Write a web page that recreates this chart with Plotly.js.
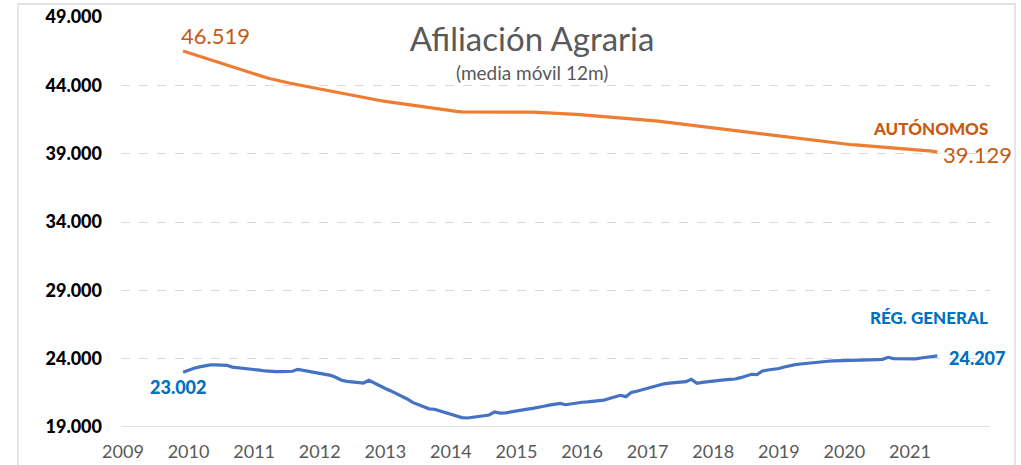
<!DOCTYPE html>
<html>
<head>
<meta charset="utf-8">
<script src="https://cdn.plot.ly/plotly-3.0.1.min.js"></script>
<style>
  html, body { margin: 0; padding: 0; background: #ffffff; }
  #chart { width: 1021px; height: 465px; }
</style>
</head>
<body>
<div id="chart"></div>
<script>
// First month of the series: December 2009 (monthly, 12-month moving average)
const startYear = 2009;
const startMonth = 12;

const autonomos = [
  46519, 46390, 46250, 46110, 45970, 45830, 45700, 45580, 45450, 45330,
  45200, 45080, 44950, 44820, 44700, 44590, 44480, 44380, 44290, 44200,
  44120, 44040, 43960, 43880, 43800, 43720, 43640, 43560, 43480, 43400,
  43320, 43240, 43170, 43100, 43030, 42960, 42890, 42830, 42770, 42710,
  42650, 42590, 42530, 42470, 42410, 42350, 42290, 42240, 42190, 42140,
  42090, 42060, 42060, 42070, 42070, 42080, 42080, 42080, 42080, 42080,
  42080, 42070, 42060, 42050, 42040, 42020, 42010, 41990, 41970, 41950,
  41930, 41900, 41870, 41840, 41810, 41780, 41750, 41710, 41680, 41650,
  41620, 41590, 41560, 41530, 41500, 41460, 41420, 41380, 41330, 41280,
  41230, 41180, 41130, 41080, 41030, 40980, 40930, 40880, 40830, 40780,
  40730, 40680, 40630, 40580, 40530, 40480, 40430, 40380, 40330, 40280,
  40230, 40180, 40130, 40080, 40030, 39980, 39930, 39880, 39830, 39780,
  39740, 39700, 39670, 39640, 39610, 39580, 39550, 39520, 39490, 39460,
  39430, 39400, 39370, 39340, 39300, 39260, 39220, 39180, 39129
];

const regGeneral = [
  23002, 23170, 23300, 23400, 23490, 23540, 23550, 23545, 23515, 23380,
  23345, 23300, 23250, 23200, 23160, 23100, 23050, 23050, 23050, 23050,
  23080, 23220, 23150, 23100, 23010, 22940, 22860, 22780, 22620, 22420,
  22340, 22300, 22270, 22220, 22410, 22200, 22000, 21820, 21640, 21450,
  21290, 21050, 20800, 20660, 20490, 20330, 20300, 20180, 20050, 19920,
  19790, 19690, 19660, 19720, 19760, 19820, 19880, 20100, 20020, 20040,
  20120, 20200, 20260, 20310, 20360, 20420, 20520, 20600, 20660, 20730,
  20630, 20700, 20780, 20810, 20840, 20880, 20930, 20970, 21080, 21180,
  21320, 21220, 21520, 21620, 21700, 21830, 21950, 22070, 22160, 22210,
  22250, 22290, 22320, 22490, 22200, 22260, 22320, 22360, 22420, 22450,
  22480, 22510, 22610, 22720, 22860, 22830, 23100, 23170, 23220, 23280,
  23390, 23490, 23560, 23610, 23660, 23710, 23750, 23780, 23810, 23840,
  23850, 23860, 23860, 23850, 23850, 23880, 23910, 23930, 23950, 24100,
  24010, 24010, 24020, 24000, 23980, 24050, 24120, 24150, 24207
];

const yearTicks = [2009, 2010, 2011, 2012, 2013, 2014, 2015, 2016, 2017, 2018, 2019, 2020, 2021];
const yTicks = [19000, 24000, 29000, 34000, 39000, 44000, 49000];

const chartTitle = 'Afiliación Agraria';
const chartSubtitle = '(media móvil 12m)';
const nameAut = 'AUTÓNOMOS';
const nameGen = 'RÉG. GENERAL';

// x positions as decimal years (month index)
function monthX(n) {
  const xs = [];
  for (let i = 0; i < n; i++) xs.push(startYear + (startMonth - 1 + i) / 12);
  return xs;
}
const xA = monthX(autonomos.length);
const xG = monthX(regGeneral.length);

function fmt(v) { return String(v).replace(/\B(?=(\d{3})+(?!\d))/g, '.'); }

const ORANGE = '#ED7D31';
const ORANGE_TXT = '#C55A11';
const BLUE = '#4472C4';
const BLUE_TXT = '#0070C0';
const FONT = 'Lato, "Open Sans", sans-serif';

const traces = [
  { x: xA, y: autonomos, type: 'scatter', mode: 'lines', name: nameAut,
    line: { color: ORANGE, width: 3.2 }, hoverinfo: 'skip' },
  { x: xG, y: regGeneral, type: 'scatter', mode: 'lines', name: nameGen,
    line: { color: BLUE, width: 3.2 }, hoverinfo: 'skip' }
];

const lastA = xA[xA.length - 1], lastG = xG[xG.length - 1];

const layout = {
  width: 1021, height: 465,
  margin: { l: 121, r: 31, t: 17, b: 38, pad: 0 },
  paper_bgcolor: '#ffffff', plot_bgcolor: '#ffffff',
  separators: ',.',
  showlegend: false,
  font: { family: FONT, color: '#595959' },
  title: { text: chartTitle, x: 532 / 1021, xanchor: 'center', y: 1 - 39 / 465, yanchor: 'middle',
           font: { family: FONT, size: 33, color: '#595959' } },
  xaxis: {
    range: [2008.97, 2022.22], tickvals: yearTicks, ticktext: yearTicks.map(String),
    showgrid: false, zeroline: false, showline: false, ticks: '',
    ticklabelstandoff: 12,
    tickfont: { family: FONT, size: 18, color: '#595959' }
  },
  yaxis: {
    range: [19000, 49000], tickvals: yTicks, ticktext: yTicks.map(fmt),
    showgrid: true, gridcolor: '#D9D9D9', griddash: 'dash', gridwidth: 1,
    zeroline: false, showline: false, ticks: '',
    ticklabelstandoff: 18,
    tickfont: { family: FONT, size: 18, color: '#000000', weight: 900 }
  },
  shapes: [
    { type: 'line', xref: 'paper', yref: 'y', x0: 0, x1: 1, y0: 19000, y1: 19000,
      line: { color: '#D9D9D9', width: 1.3 } },
    { type: 'rect', xref: 'paper', yref: 'paper', x0: (18 - 121) / 869, x1: (1015 - 121) / 869,
      y0: (427 - 480) / 410, y1: (427 - 4) / 410, line: { color: '#D9D9D9', width: 1.3 }, layer: 'below' }
  ],
  annotations: [
    { xref: 'paper', yref: 'paper', x: (532 - 121) / 869, y: (427 - 72) / 410, text: chartSubtitle,
      showarrow: false, xanchor: 'center', yanchor: 'middle',
      font: { family: FONT, size: 19, color: '#595959' } },
    { x: 2010.41, y: 47682, text: fmt(autonomos[0]), showarrow: false, xanchor: 'center', yanchor: 'middle',
      font: { family: FONT, size: 22, color: ORANGE_TXT } },
    { x: lastA + 0.62, y: 38975, text: fmt(autonomos[autonomos.length - 1]), showarrow: false,
      xanchor: 'center', yanchor: 'middle', font: { family: FONT, size: 22, color: ORANGE_TXT } },
    { x: 2021.31, y: 40878, text: nameAut, showarrow: false, xanchor: 'center', yanchor: 'middle',
      font: { family: FONT, size: 17, color: ORANGE_TXT, weight: 900 } },
    { x: 2021.29, y: 27049, text: nameGen, showarrow: false, xanchor: 'center', yanchor: 'middle',
      font: { family: FONT, size: 17, color: BLUE_TXT, weight: 900 } },
    { x: lastG + 0.62, y: 24049, text: fmt(regGeneral[regGeneral.length - 1]), showarrow: false,
      xanchor: 'center', yanchor: 'middle', font: { family: FONT, size: 18, color: BLUE_TXT, weight: 900 } },
    { x: 2009.84, y: 21927, text: fmt(regGeneral[0]), showarrow: false, xanchor: 'center', yanchor: 'middle',
      font: { family: FONT, size: 18, color: BLUE_TXT, weight: 900 } }
  ]
};

Plotly.newPlot('chart', traces, layout, { displayModeBar: false, staticPlot: true });
</script>
</body>
</html>
